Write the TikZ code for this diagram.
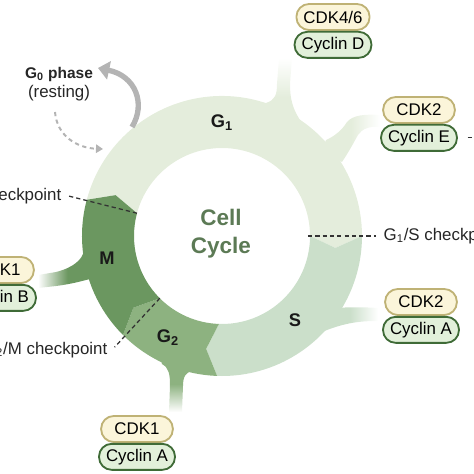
\documentclass[tikz,border=0pt]{standalone}
\usepackage{fontspec}
\setmainfont{Liberation Sans}
\usetikzlibrary{positioning,arrows.meta}

\definecolor{gonecol}{HTML}{E4EDDC}
\definecolor{scol}{HTML}{CBDFCA}
\definecolor{gtwocol}{HTML}{8DB280}
\definecolor{mcol}{HTML}{6B9760}
\definecolor{cellcol}{HTML}{5C7A55}
\definecolor{cdkfill}{HTML}{FBF5DA}
\definecolor{cdkline}{HTML}{BFB275}
\definecolor{cycfill}{HTML}{E2F0DA}
\definecolor{cycline}{HTML}{3F6B37}
\definecolor{arrowgray}{HTML}{B4B4B4}

\begin{document}
\begin{tikzpicture}
        [
            x = 0.025cm, y = 0.025cm,
            cdkbox/.style = {draw = cdkline, fill = cdkfill, line width = 1.3pt, rounded corners = 9pt,
                minimum width = 51pt, minimum height = 18.5pt, inner xsep = 5pt, font = \fontsize{12}{14}\selectfont},
            cycbox/.style = {cdkbox, draw = cycline, fill = cycfill},
            phase/.style = {font = \fontsize{13}{15}\selectfont\bfseries, text = black!90},
            ckline/.style = {draw = black!80, line width = 0.9pt, dash pattern = on 3pt off 2.2pt},
            cktext/.style = {font = \fontsize{12}{14}\selectfont, text = black!85, inner sep = 1pt}
        ]

        \useasboundingbox (-222,-238) rectangle (252,236);

        % arms towards the cyclin pairs
        \shade[top color = white, bottom color = gonecol, middle color = gonecol]
            (44,120) -- (44,133) .. controls (53,136) and (55,141) .. (55,152) -- (57,178) -- (70,178)
            -- (68,152) .. controls (68,136) and (71,126) .. (80,113) -- (60,100) -- cycle;
        \shade[left color = gonecol, right color = white, middle color = gonecol]
            (100,85) -- (104,96) .. controls (113,100) and (120,106) .. (125,114) .. controls (131,121) and (143,122) .. (158,121)
            -- (158,109) .. controls (147,110) and (140,107) .. (136,101) .. controls (132,94) and (128,86) .. (120,74) -- cycle;
        \shade[left color = scol, right color = white, middle color = scol]
            (100,-70) -- (116,-72) .. controls (126,-71) and (140,-71) .. (156,-72)
            -- (156,-85) .. controls (140,-85) and (124,-86) .. (100,-96) -- cycle;
        \shade[top color = gtwocol, bottom color = white, middle color = gtwocol]
            (-62,-120) -- (-60,-128) .. controls (-53,-132) and (-52,-138) .. (-52,-150) -- (-53,-176) -- (-40,-176)
            -- (-39,-150) .. controls (-39,-140) and (-36,-136) .. (-28,-134) -- (-40,-120) -- cycle;
        \shade[left color = white, right color = mcol, middle color = mcol]
            (-125,-15) -- (-138,-14) .. controls (-139,-24) and (-150,-32) .. (-166,-36) -- (-184,-39)
            -- (-184,-52) -- (-166,-50) .. controls (-150,-48) and (-140,-45) .. (-128,-42) -- cycle;

        % the ring, one arrow shaped sector per phase
        \foreach \a/\b/\col in {165/0/gonecol, 0/-92/scol, -92/-135/gtwocol, -135/-195/mcol}
            \fill[\col] (\a:140) arc[start angle = \a, end angle = \b, radius = 140] -- ({\b-6}:114)
                -- (\b:88) arc[start angle = \b, end angle = \a, radius = 88] -- ({\a-6}:114) -- cycle;

        \node[phase] (gone) at (0,113) {G\textsubscript{1}};
        \node[phase] (sph) at (73,-84) {S};
        \node[phase] (gtwo) at (-54,-102) {G\textsubscript{2}};
        \node[phase] (mph) at (-115,-22) {M};
        \node[font = \fontsize{16}{20}\selectfont\bfseries, text = cellcol, align = center] (cell) at (-1,2) {Cell\\Cycle};

        % checkpoints
        \node[cktext, anchor = east] (ckM) at (-159,40) {checkpoint};
        \draw[ckline] (165:88) -- ([xshift = 4pt]ckM.east);
        \node[cktext, anchor = west] (ckS) at (160,0) {G\textsubscript{1}/S checkpoint};
        \draw[ckline] (0:86) -- ([xshift = -4pt]ckS.west);
        \node[cktext, anchor = east] (ckG) at (-113,-114) {G\textsubscript{2}/M checkpoint};
        \draw[ckline] (-135:88) -- ([shift = {(4pt,2pt)}]ckG.east);

        % cdk / cyclin pairs
        \node[cdkbox] (cdkD) at (111,219) {CDK4/6};
        \node[cycbox, below = 0pt of cdkD] (cycD) {Cyclin D};
        \node[cdkbox] (cdkE) at (197,126) {CDK2};
        \node[cycbox, below = 0pt of cdkE] (cycE) {Cyclin E};
        \node[cdkbox] (cdkSA) at (199,-66) {CDK2};
        \node[cycbox, below = 0pt of cdkSA] (cycSA) {Cyclin A};
        \node[cdkbox] (cdkGA) at (-85,-193) {CDK1};
        \node[cycbox, below = 0pt of cdkGA] (cycGA) {Cyclin A};
        \node[cdkbox] (cdkB) at (-224,-34) {CDK1};
        \node[cycbox, below = 0pt of cdkB] (cycB) {Cyclin B};
        \draw[ckline] ([xshift = 7pt]cycE.east) -- ++(20pt,0);

        % resting phase
        \node[align = center, font = \fontsize{12}{13.5}\selectfont, text = black!85] (gzero) at (-163,152)
            {{\fontsize{11}{13}\selectfont\bfseries G\textsubscript{0} phase}\\(resting)};
        \coordinate (gzout) at (-90,109);
        \coordinate (gztip) at (-124,168);
        \coordinate (gzfrom) at (-167,124);
        \coordinate (gzin) at (-119,87);
        \draw[arrowgray, line width = 3.8pt, -{Triangle[width = 13pt, length = 8pt]}]
            (gzout) .. controls (-76,132) and (-86,160) .. (gztip);
        \draw[arrowgray, line width = 1.4pt, dash pattern = on 3pt off 2.5pt, -{Triangle[width = 6pt, length = 5pt]}]
            (gzfrom) .. controls (-165,100) and (-145,88) .. (gzin);
    \end{tikzpicture}
\end{document}
